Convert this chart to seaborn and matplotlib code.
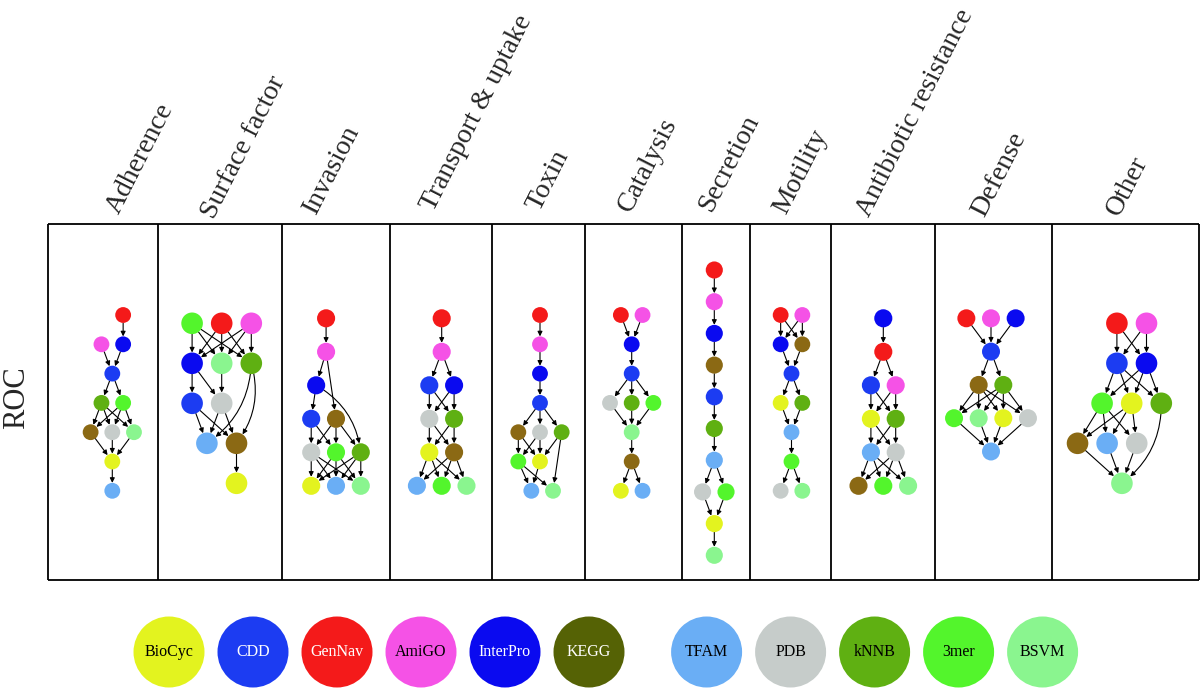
import matplotlib as mpl
mpl.use('Agg')
import matplotlib.pyplot as plt
from matplotlib.patches import FancyArrowPatch
import numpy as np
import pandas as pd
import seaborn as sns

# ---- data -------------------------------------------------------------
methods = ["BioCyc", "CDD", "GenNav", "AmiGO", "InterPro", "KEGG",
           "TFAM", "PDB", "kNNB", "3mer", "BSVM"]
legend_colors = ["#E3F31F", "#1C3CF2", "#F41A1A", "#F552E6", "#0A0AF0", "#556205",
                 "#6AAEF5", "#C6CCCA", "#5FB012", "#53F52C", "#8AF58F"]
legend_text_colors = ["black", "white", "white", "black", "white", "white",
                      "black", "black", "black", "black", "black"]

categories = ["Adherence", "Surface factor", "Invasion", "Transport & uptake", "Toxin",
              "Catalysis", "Secretion", "Motility", "Antibiotic resistance", "Defense", "Other"]

# each graph: ranks (top to bottom), then edges ("a>b" straight, "a~b" curved)
adherence_rows = [["GenNav"], ["AmiGO", "InterPro"], ["CDD"], ["kNNB", "3mer"],
                  ["KEGG", "PDB", "BSVM"], ["BioCyc"], ["TFAM"]]
adherence_edges = ("GenNav>InterPro AmiGO>CDD InterPro>CDD CDD>kNNB CDD>3mer kNNB>KEGG kNNB>PDB "
                   "kNNB>BSVM 3mer>KEGG 3mer>PDB 3mer>BSVM KEGG>BioCyc PDB>BioCyc BSVM>BioCyc BioCyc>TFAM")

surface_rows = [["3mer", "GenNav", "AmiGO"], ["InterPro", "BSVM", "kNNB"], ["CDD", "PDB"],
                ["TFAM", "KEGG"], ["BioCyc"]]
surface_edges = ("3mer>InterPro 3mer>BSVM 3mer>kNNB GenNav>InterPro GenNav>BSVM GenNav>kNNB "
                 "AmiGO>InterPro AmiGO>BSVM AmiGO>kNNB InterPro>CDD InterPro>PDB BSVM>PDB "
                 "kNNB~TFAM kNNB~KEGG CDD>TFAM CDD>KEGG PDB>TFAM PDB>KEGG KEGG>BioCyc")

invasion_rows = [["GenNav"], ["AmiGO"], ["InterPro"], ["CDD", "KEGG"],
                 ["PDB", "3mer", "kNNB"], ["BioCyc", "TFAM", "BSVM"]]
invasion_edges = ("GenNav>AmiGO AmiGO>InterPro AmiGO>KEGG InterPro>CDD InterPro~kNNB CDD>PDB CDD>3mer "
                  "KEGG>PDB KEGG>3mer KEGG>kNNB PDB>BioCyc PDB>TFAM PDB>BSVM 3mer>BioCyc 3mer>TFAM "
                  "3mer>BSVM kNNB>BioCyc kNNB>TFAM kNNB>BSVM")

transport_rows = [["GenNav"], ["AmiGO"], ["CDD", "InterPro"], ["PDB", "kNNB"],
                  ["BioCyc", "KEGG"], ["TFAM", "3mer", "BSVM"]]
transport_edges = ("GenNav>AmiGO AmiGO>CDD AmiGO>InterPro CDD>PDB CDD>kNNB InterPro>PDB InterPro>kNNB "
                   "PDB>BioCyc PDB>KEGG kNNB>BioCyc kNNB>KEGG BioCyc>TFAM BioCyc>3mer BioCyc>BSVM "
                   "KEGG>TFAM KEGG>3mer KEGG>BSVM")

toxin_rows = [["GenNav"], ["AmiGO"], ["InterPro"], ["CDD"], ["KEGG", "PDB", "kNNB"],
              ["3mer", "BioCyc"], ["TFAM", "BSVM"]]
toxin_edges = ("GenNav>AmiGO AmiGO>InterPro InterPro>CDD CDD>KEGG CDD>PDB CDD>kNNB KEGG>3mer "
               "KEGG>BioCyc PDB>3mer PDB>BioCyc kNNB>BioCyc kNNB>BSVM 3mer>TFAM 3mer>BSVM BioCyc>TFAM")

catalysis_rows = [["GenNav", "AmiGO"], ["InterPro"], ["CDD"], ["PDB", "kNNB", "3mer"],
                  ["BSVM"], ["KEGG"], ["BioCyc", "TFAM"]]
catalysis_edges = ("GenNav>InterPro AmiGO>InterPro InterPro>CDD CDD>PDB CDD>kNNB CDD>3mer PDB>BSVM "
                   "kNNB>BSVM 3mer>BSVM BSVM>KEGG KEGG>BioCyc KEGG>TFAM")

secretion_rows = [["GenNav"], ["AmiGO"], ["InterPro"], ["KEGG"], ["CDD"], ["kNNB"], ["TFAM"],
                  ["PDB", "3mer"], ["BioCyc"], ["BSVM"]]
secretion_edges = ("GenNav>AmiGO AmiGO>InterPro InterPro>KEGG KEGG>CDD CDD>kNNB kNNB>TFAM TFAM>PDB "
                   "TFAM>3mer PDB>BioCyc 3mer>BioCyc BioCyc>BSVM")

motility_rows = [["GenNav", "AmiGO"], ["InterPro", "KEGG"], ["CDD"], ["BioCyc", "kNNB"],
                 ["TFAM"], ["3mer"], ["PDB", "BSVM"]]
motility_edges = ("GenNav>InterPro GenNav>KEGG AmiGO>InterPro AmiGO>KEGG InterPro>CDD KEGG>CDD "
                  "CDD>BioCyc CDD>kNNB BioCyc>TFAM kNNB>TFAM TFAM>3mer 3mer>PDB 3mer>BSVM")

antibiotic_rows = [["InterPro"], ["GenNav"], ["CDD", "AmiGO"], ["BioCyc", "kNNB"],
                   ["TFAM", "PDB"], ["KEGG", "3mer", "BSVM"]]
antibiotic_edges = ("InterPro>GenNav GenNav>CDD GenNav>AmiGO CDD>BioCyc CDD>kNNB AmiGO>BioCyc "
                    "AmiGO>kNNB BioCyc>TFAM BioCyc>PDB kNNB>TFAM kNNB>PDB TFAM>KEGG TFAM>3mer "
                    "TFAM>BSVM PDB>KEGG PDB>3mer PDB>BSVM")

defense_rows = [["GenNav", "AmiGO", "InterPro"], ["CDD"], ["KEGG", "kNNB"],
                ["3mer", "BSVM", "BioCyc", "PDB"], ["TFAM"]]
defense_edges = ("GenNav>CDD AmiGO>CDD InterPro>CDD CDD>KEGG CDD>kNNB KEGG>3mer KEGG>BSVM "
                 "KEGG>BioCyc KEGG>PDB kNNB>3mer kNNB>BSVM kNNB>BioCyc kNNB>PDB 3mer>TFAM "
                 "BSVM>TFAM BioCyc>TFAM PDB>TFAM")

other_rows = [["GenNav", "AmiGO"], ["CDD", "InterPro"], ["3mer", "BioCyc", "kNNB"],
              ["KEGG", "TFAM", "PDB"], ["BSVM"]]
other_edges = ("GenNav>CDD GenNav>InterPro AmiGO>CDD AmiGO>InterPro CDD>3mer CDD>BioCyc CDD>kNNB "
               "InterPro>3mer InterPro>BioCyc InterPro>kNNB 3mer>KEGG 3mer>TFAM 3mer>PDB "
               "BioCyc>KEGG BioCyc>TFAM BioCyc>PDB KEGG>BSVM TFAM>BSVM PDB>BSVM kNNB~BSVM")

graphs = [(adherence_rows, adherence_edges), (surface_rows, surface_edges),
          (invasion_rows, invasion_edges), (transport_rows, transport_edges),
          (toxin_rows, toxin_edges), (catalysis_rows, catalysis_edges),
          (secretion_rows, secretion_edges), (motility_rows, motility_edges),
          (antibiotic_rows, antibiotic_edges), (defense_rows, defense_edges),
          (other_rows, other_edges)]

# ---- layout (pixel space) -------------------------------------------
panel_edges = [48, 158, 282, 390, 492, 585, 682, 750, 831, 935, 1052, 1199]
box_top, box_bottom = 224, 580
# centre x, top rank y, rank spacing, per-rank horizontal shift (in node slots)
graph_layout = [
    (112.3, 315, 29.3, [0.5, 0, 0, 0, 0, 0, 0]),
    (221.7, 323.3, 40, [0, 0, -0.5, 0, 0.5]),
    (336, 318.3, 33.5, [-0.4, -0.4, -0.8, -0.5, 0, 0]),
    (441.7, 318.3, 33.5, None),
    (540, 315, 29.3, [0, 0, 0, 0, 0, -0.5, 0.1]),
    (631.7, 315, 29.3, None),
    (714.3, 270, 31.7, None),
    (791.5, 315, 29.3, None),
    (883.3, 318.3, 33.5, None),
    (991, 318.3, 33.3, None),
    (1131.7, 323.3, 40, [0, 0, 0, -0.83, -0.33]),
]
label_start = [(110, 215), (205, 220), (307, 215), (425, 212), (530, 212), (622, 213),
               (702, 213), (777, 215), (860, 218), (975, 218), (1110, 217)]

node_colors = dict(zip(methods, legend_colors))
node_colors["KEGG"] = "#8B6914"

sns.set_theme(style="white")
plt.rcParams['font.family'] = ['Liberation Serif', 'DejaVu Serif']

fig = plt.figure(figsize=(12, 6.9), dpi=100)
ax = fig.add_axes([0, 0, 1, 1])
ax.set_xlim(0, 1200)
ax.set_ylim(690, 0)
ax.axis('off')

PT = 0.72  # points per pixel at 100 dpi

# panel boxes
ax.hlines([box_top, box_bottom], panel_edges[0], panel_edges[-1], color="black", lw=1.3)
ax.vlines(panel_edges, box_top, box_bottom, color="black", lw=1.3)

for i, (name, (rows, edges)) in enumerate(zip(categories, graphs)):
    cx, top, s, shifts = graph_layout[i]
    h = 0.74 * s
    r = 0.27 * s
    if shifts is None:
        shifts = [0] * len(rows)
    recs = []
    for k, row in enumerate(rows):
        n = len(row)
        for j, m in enumerate(row):
            recs.append({"method": m,
                         "x": cx + (shifts[k] + j - (n - 1) / 2) * h,
                         "y": top + k * s})
    df = pd.DataFrame(recs)
    pos = {row.method: (row.x, row.y) for row in df.itertuples()}

    for e in edges.split():
        curved = "~" in e
        a, b = e.split("~" if curved else ">")
        arr = FancyArrowPatch(pos[a], pos[b], arrowstyle="-|>", mutation_scale=7,
                              connectionstyle="arc3,rad=-0.25" if curved else "arc3,rad=0",
                              shrinkA=r * PT, shrinkB=r * PT, lw=0.8, color="black", zorder=2)
        ax.add_patch(arr)

    sns.scatterplot(data=df, x="x", y="y", hue="method", palette=node_colors,
                    s=(2 * r * PT) ** 2, linewidth=0, legend=False, ax=ax, zorder=3)

    lx, ly = label_start[i]
    ax.text(lx + 9, ly, name, rotation=63, rotation_mode="anchor", ha="left", va="baseline",
            fontsize=20)

ax.text(17, 398, "ROC", rotation=90, ha="center", va="center", fontsize=22)

# legend row of circles
slot = np.array([0, 1, 2, 3, 4, 5, 6.4, 7.4, 8.4, 9.4, 10.4])
leg = pd.DataFrame({"method": methods, "x": 169 + 84 * slot, "y": 652})
sns.scatterplot(data=leg, x="x", y="y", hue="method", palette=dict(zip(methods, legend_colors)),
                s=(71 * PT) ** 2, linewidth=0, legend=False, ax=ax, zorder=3)
for row, tc in zip(leg.itertuples(), legend_text_colors):
    ax.text(row.x, row.y, row.method, ha="center", va="center", fontsize=11.5, color=tc, zorder=4)

ax.set_xlabel("")
ax.set_ylabel("")
fig.savefig("out.png", dpi=100)
